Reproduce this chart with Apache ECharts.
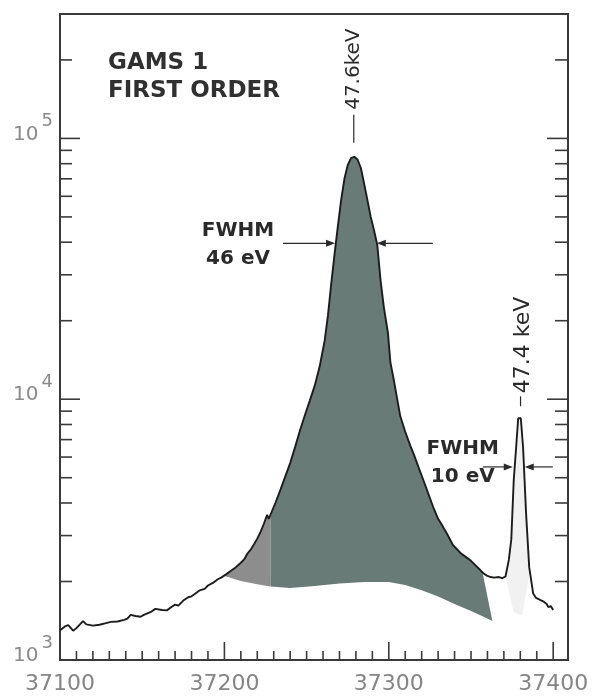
<!DOCTYPE html>
<html>
<head>
<meta charset="utf-8">
<script src="https://cdn.jsdelivr.net/npm/echarts@6/dist/echarts.min.js"></script>
<style>
html,body{margin:0;padding:0;background:#ffffff;}
#c{width:593px;height:699px;}
</style>
</head>
<body>
<div id="c"></div>
<script>
// ---------- data ----------
const energy = [37100,37103,37105,37108,37110,37114,37116,37120,37124,37128,37131,37135,37139,37141,37143,37146,37149,37151,37155,37158,37162,37165,37168,37170,37172,37175,37178,37180,37182,37185,37188,37190,37193,37196,37198,37201,37204,37207,37210,37212,37214,37216,37218,37220,37222,37224,37226,37227,37228,37231,37234,37237,37240,37243,37246,37249,37252,37255,37258,37261,37263,37265,37267,37269,37271,37273,37275,37277,37279,37281,37283,37285,37287,37289,37291,37293,37295,37297,37299.5,37301,37303,37305,37307,37310,37313,37315,37318,37321,37324,37327,37330,37333,37336,37339,37342,37344,37347,37350,37353,37356,37358,37360,37362,37364,37367,37369,37371,37373,37374.5,37376,37377.5,37378.7,37380.3,37381.7,37383.5,37385.4,37387.8,37389.6,37392,37394.5,37396,37397,37398.5,37400];
const counts = [1300,1345,1360,1295,1325,1410,1370,1355,1365,1385,1400,1405,1425,1440,1490,1475,1465,1490,1525,1570,1555,1550,1600,1630,1615,1690,1740,1755,1790,1850,1875,1930,1975,2040,2070,2130,2200,2270,2360,2430,2560,2650,2780,2920,3100,3330,3600,3480,3530,4000,4480,5050,5690,6550,7600,8700,9900,11300,13400,16800,21000,27800,36000,46000,58000,70000,79000,84000,85000,83000,77000,67000,58000,50000,44500,39000,28500,22500,17900,13800,11900,10100,8600,7500,6650,6200,5500,4900,4350,3860,3480,3240,3000,2760,2640,2560,2480,2400,2300,2200,2140,2100,2080,2070,2080,2060,2090,2420,2900,4900,6600,8450,8450,6500,3650,2270,1800,1730,1700,1670,1640,1596,1610,1555];

// background (lower edge of the shaded peak area)
const bgEnergy = [37200,37210,37220,37228,37240,37255,37270,37285,37300,37310,37320,37330,37340,37350,37357,37363];
const bgCounts = [2100,2010,1950,1915,1890,1920,1965,1990,1990,1940,1850,1750,1640,1540,1470,1410];
// faint shading under the small peak
const smallBgEnergy = [37371,37376,37381,37386];
const smallBgCounts = [2090,1520,1480,2200];

// shaded ranges [from, to]
const greyRange = [37200, 37228];
const darkRange = [37228, 37357];
const smallRange = [37371, 37386];

// axes
const xTickLabels = ['37100','37200','37300','37400'];
const yMajorTicks = [1000, 10000, 100000];
const yMinorTicks = [2000,3000,4000,5000,6000,7000,8000,9000,20000,30000,40000,50000,60000,70000,80000,90000,200000];

// peaks and FWHM markers
const peakEnergy = [37278.7, 37379.5];
const peakCounts = [85000, 8450];
const peakLabels = ['47.6keV', '47.4 keV'];
const fwhmTitle = ['FWHM', 'FWHM'];
const fwhmValue = ['46 eV', '10 eV'];
const fwhmCounts = [39600, 5500];
const fwhmLeft = [37267.3, 37375.4];
const fwhmRight = [37292.7, 37382.7];

const titleLines = ['GAMS 1', 'FIRST ORDER'];

// ---------- helpers ----------
const X_MIN = 37100, X_MAX = 37409, Y_MIN = 1000, Y_MAX = 300000;

function interpLog(xs, ys, x) {
  for (let i = 0; i < xs.length - 1; i++) {
    if (x >= xs[i] && x <= xs[i + 1]) {
      const t = (x - xs[i]) / (xs[i + 1] - xs[i]);
      return Math.pow(10, Math.log10(ys[i]) + t * (Math.log10(ys[i + 1]) - Math.log10(ys[i])));
    }
  }
  return ys[x < xs[0] ? 0 : ys.length - 1];
}
function boundary(xs, ys, a, b) {
  const pts = [[a, interpLog(xs, ys, a)]];
  for (let i = 0; i < xs.length; i++) if (xs[i] > a && xs[i] < b) pts.push([xs[i], ys[i]]);
  pts.push([b, interpLog(xs, ys, b)]);
  return pts;
}
const fillPolys = [
  boundary(energy, counts, greyRange[0], greyRange[1]).concat(boundary(bgEnergy, bgCounts, greyRange[0], greyRange[1]).reverse()),
  boundary(energy, counts, darkRange[0], darkRange[1]).concat(boundary(bgEnergy, bgCounts, darkRange[0], bgEnergy[bgEnergy.length - 1]).reverse()),
  boundary(energy, counts, smallRange[0], smallRange[1]).concat(boundary(smallBgEnergy, smallBgCounts, smallRange[0], smallRange[1]).reverse())
];
const fillColors = ['#8d8d8d', '#687b76', '#f1f1f1'];

const xMajor = xTickLabels.map(Number);
const xMinor = [];
for (let v = xMajor[0] + 10; v < xMajor[xMajor.length - 1]; v += 10) if (v % 100 !== 0) xMinor.push(v);

const TICK = '#3a3a3a';
const INK = '#2a2a2a';

const annoLayout = [
  {gap: 47, l1: 14, l2: 42, dx: 0, font: '20px "DejaVu Sans"', armL: 52, armR: 56, textDx: 45, up: 12.5, down: 15},
  {gap: 25, l1: 12, l2: 22, dx: 3.5, font: '22px "DejaVu Sans"', armL: 30, armR: 28, textDx: 20, up: 18.5, down: 10}
];

function arrowHead(x, y, dir) {
  return {type: 'polygon', shape: {points: [[x, y], [x - dir * 9, y - 3.5], [x - dir * 9, y + 3.5]]}, style: {fill: INK}};
}

// ---------- chart ----------
const chart = echarts.init(document.getElementById('c'));
chart.setOption({
  animation: false,
  backgroundColor: '#ffffff',
  grid: {left: 60, right: 25, top: 14, bottom: 39, show: true, borderColor: '#3a3a3a', borderWidth: 2},
  xAxis: {
    type: 'value', min: X_MIN, max: X_MAX, interval: 100,
    axisLine: {show: false}, axisTick: {show: false}, splitLine: {show: false},
    axisLabel: {
      margin: 13, color: '#858585', fontFamily: 'DejaVu Sans', fontSize: 22,
      formatter: v => (xTickLabels.indexOf(String(v)) >= 0 ? String(v) : '')
    }
  },
  yAxis: {
    type: 'log', logBase: 10, min: Y_MIN, max: Y_MAX,
    axisLine: {show: false}, axisTick: {show: false}, splitLine: {show: false},
    axisLabel: {
      margin: 7, padding: [0, 0, 8, 0],
      formatter: v => {
        const e = Math.round(Math.log10(v));
        if (Math.abs(Math.log10(v) - e) > 1e-6) return '';
        return '{b|10}{s|' + e + '}';
      },
      rich: {
        b: {fontSize: 20, lineHeight: 44, color: '#8a8a8a', fontFamily: 'DejaVu Sans'},
        s: {fontSize: 18, lineHeight: 18, verticalAlign: 'top', color: '#8a8a8a', fontFamily: 'DejaVu Sans', padding: [0, 0, 0, 3]}
      }
    }
  },
  graphic: titleLines.map((t, i) => ({
    type: 'text', x: 108, y: 63.5 + i * 28,
    style: {text: t, font: 'bold 23px "DejaVu Sans"', fill: '#303030', verticalAlign: 'middle', align: 'left'}
  })),
  series: [
    {
      type: 'custom', name: 'fill', silent: true, z: 1, clip: false,
      data: fillPolys.map(p => p[0]),
      renderItem: (params, api) => ({
        type: 'polygon',
        shape: {points: fillPolys[params.dataIndex].map(p => api.coord(p))},
        style: {fill: fillColors[params.dataIndex]}
      })
    },
    {
      type: 'line', name: 'spectrum', z: 3,
      data: energy.map((e, i) => [e, counts[i]]),
      showSymbol: false, symbol: 'none',
      lineStyle: {color: '#1c1c1c', width: 1.9},
      silent: true
    },
    {
      type: 'custom', name: 'yticks', silent: true, z: 2, clip: false,
      data: yMajorTicks.concat(yMinorTicks).map(v => [X_MIN, v]),
      renderItem: (params, api) => {
        const v = api.value(1);
        const major = yMajorTicks.indexOf(v) >= 0;
        const cs = params.coordSys;
        const y = api.coord([X_MIN, v])[1];
        const lL = major ? 20 : 12, lR = major ? 21 : 13;
        return {type: 'group', children: [
          {type: 'line', shape: {x1: cs.x, y1: y, x2: cs.x + lL, y2: y}, style: {stroke: TICK, lineWidth: 1.6}},
          {type: 'line', shape: {x1: cs.x + cs.width, y1: y, x2: cs.x + cs.width - lR, y2: y}, style: {stroke: TICK, lineWidth: 1.6}}
        ]};
      }
    },
    {
      type: 'custom', name: 'xticks', silent: true, z: 2, clip: false,
      data: xMajor.concat(xMinor).map(v => [v, Y_MIN]),
      renderItem: (params, api) => {
        const v = api.value(0);
        const major = xMajor.indexOf(v) >= 0;
        const p = api.coord([v, Y_MIN]);
        const len = major ? 18 : 9;
        return {type: 'line', shape: {x1: p[0], y1: p[1], x2: p[0], y2: p[1] - len}, style: {stroke: TICK, lineWidth: 1.6}};
      }
    },
    {
      type: 'custom', name: 'annotations', silent: true, z: 4, clip: false,
      data: peakEnergy.map((e, i) => [e, peakCounts[i]]),
      renderItem: (params, api) => {
        const i = params.dataIndex;
        const c = annoLayout[i];
        const pk = api.coord([peakEnergy[i], peakCounts[i]]);
        const L = api.coord([fwhmLeft[i], fwhmCounts[i]]);
        const R = api.coord([fwhmRight[i], fwhmCounts[i]]);
        const tx = L[0] - c.armL - c.textDx;
        return {type: 'group', children: [
          {type: 'text', x: pk[0] + c.dx, y: pk[1] - c.gap, rotation: Math.PI / 2,
            style: {text: peakLabels[i], font: c.font, fill: INK, align: 'left', verticalAlign: 'middle'}},
          {type: 'line', shape: {x1: pk[0] + c.dx * 0.3, y1: pk[1] - c.l1, x2: pk[0] + c.dx * 0.3, y2: pk[1] - c.l2}, style: {stroke: INK, lineWidth: 1.2}},
          {type: 'line', shape: {x1: L[0] - c.armL, y1: L[1], x2: L[0] - 4, y2: L[1]}, style: {stroke: INK, lineWidth: 1.2}},
          arrowHead(L[0], L[1], 1),
          {type: 'line', shape: {x1: R[0] + c.armR, y1: R[1], x2: R[0] + 4, y2: R[1]}, style: {stroke: INK, lineWidth: 1.2}},
          arrowHead(R[0], R[1], -1),
          {type: 'text', x: tx, y: L[1] - c.up,
            style: {text: fwhmTitle[i], font: 'bold 20px "DejaVu Sans"', fill: INK, align: 'center', verticalAlign: 'middle'}},
          {type: 'text', x: tx, y: L[1] + c.down,
            style: {text: fwhmValue[i], font: 'bold 20px "DejaVu Sans"', fill: INK, align: 'center', verticalAlign: 'middle'}}
        ]};
      }
    }
  ]
});
</script>
</body>
</html>
